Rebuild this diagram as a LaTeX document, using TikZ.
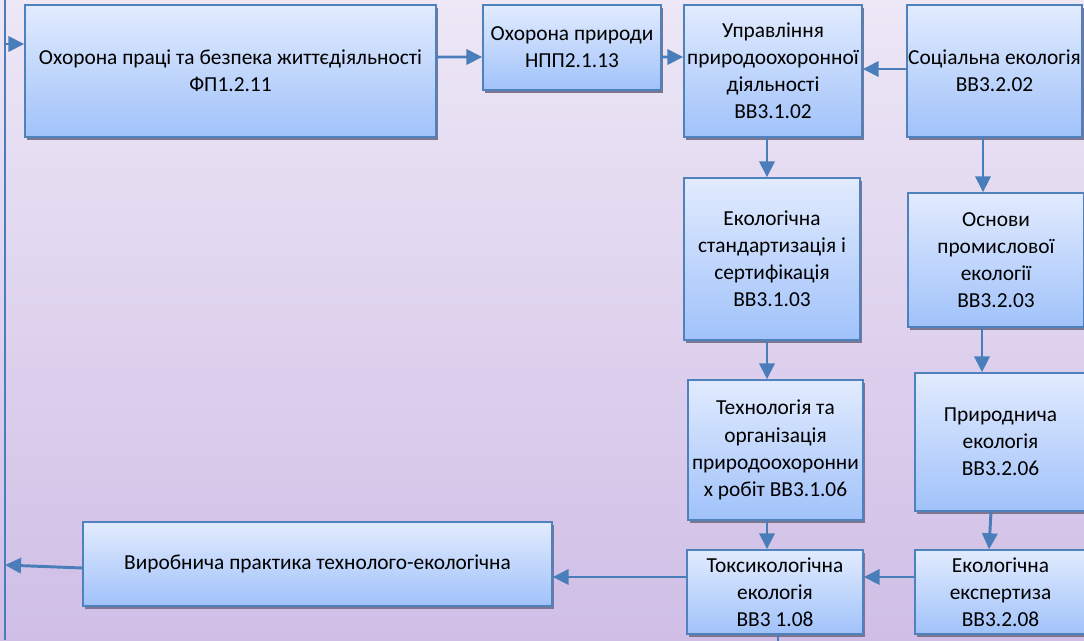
\documentclass[tikz,border=0pt]{standalone}
\usepackage{fontspec}
\setmainfont{Carlito}
\usetikzlibrary{calc,arrows.meta,shadows}

\definecolor{bgtop}{RGB}{237,231,246}
\definecolor{bgbot}{RGB}{208,190,230}
\definecolor{boxtop}{RGB}{226,235,254}
\definecolor{boxbot}{RGB}{160,194,250}
\definecolor{edge}{RGB}{79,129,189}
\definecolor{link}{RGB}{74,126,187}
\definecolor{shade}{RGB}{125,118,145}

\tikzset{
  box/.style 2 args={draw=edge,line width=1pt,top color=boxtop,bottom color=boxbot,
    minimum width=#1*0.025cm,minimum height=#2*0.025cm,inner sep=0pt,align=center,
    drop shadow={shadow xshift=0.06cm,shadow yshift=-0.07cm,fill=shade,opacity=1}},
  arr/.style={draw=link,line width=2.1pt,-{Triangle[length=0.4cm,width=0.38cm]}},
  rail/.style={draw=link,line width=1.5pt}
}

\begin{document}
\begin{tikzpicture}[x=0.025cm,y=-0.025cm,font=\fontsize{15.2}{19.3}\selectfont]
                 \shade[top color=bgtop,bottom color=bgbot] (0,0) rectangle (1084,640);
                 \useasboundingbox (0,0) rectangle (1084,640);
                 % left rail
                 \coordinate (ltop) at (5,0);
                 \coordinate (lbot) at (5,640);
                 \draw[rail] (ltop) -- (lbot);
                 % boxes
                 \node[box={411}{132}] (prac) at (230.5,71) {Охорона праці та безпека життєдіяльності\\ФП1.2.11};
                 \node[box={178}{85}] (ohor) at (572,47.5) {Охорона природи\\НПП2.1.13};
                 \node[box={178}{132}] (uprav) at (773,71) {Управління\\природоохоронної\\діяльності\\ВВ3.1.02};
                 \node[box={175}{132}] (soc) at (994.5,71) {Соціальна екологія\\ВВ3.2.02};
                 \node[box={176}{162}] (stand) at (772,259) {Екологічна\\стандартизація і\\сертифікація\\ВВ3.1.03};
                 \node[box={176}{134}] (prom) at (996,260) {Основи\\промислової\\екології\\ВВ3.2.03};
                 \node[box={175}{140}] (tech) at (775.5,450) {Технологія та\\організація\\природоохоронни\\х робіт ВВ3.1.06};
                 \node[box={171}{138}] (pryr) at (1000.5,442) {Природнича\\екологія\\ВВ3.2.06};
                 \node[box={176}{84}] (toks) at (775,592) {Токсикологічна\\екологія\\ВВ3 1.08};
                 \node[box={171}{84}] (expt) at (1000.5,592) {Екологічна\\експертиза\\ВВ3.2.08};
                 \node[box={469}{84}] (prakt) at (317.5,564) {Виробнича практика технолого-екологічна};
                 % links
                 \coordinate (lin) at (5,44);
                 \coordinate (lout) at (5,565);
                 \coordinate (down) at (778,690);
                 \draw[arr] (lin) -- (lin -| prac.west);
                 \draw[arr] ($(prac.east)+(0,-14)$) -- ($(ohor.west)+(0,9.5)$);
                 \draw[arr] ($(ohor.east)+(0,9.5)$) -- ($(uprav.west)+(0,-14)$);
                 \draw[arr] ($(soc.west)+(0,-2)$) -- ($(uprav.east)+(0,-2)$);
                 \draw[arr] ($(uprav.south)+(-6,0)$) -- ($(stand.north)+(-5,0)$);
                 \draw[arr] ($(soc.south)+(-11.5,0)$) -- ($(prom.north)+(-13,0)$);
                 \draw[arr] ($(stand.south)+(-5,0)$) -- ($(tech.north)+(-8.5,0)$);
                 \draw[arr] ($(prom.south)+(-14,0)$) -- ($(pryr.north)+(-18.5,0)$);
                 \draw[arr] ($(tech.south)+(-8.5,0)$) -- ($(toks.north)+(-8,0)$);
                 \draw[arr] ($(pryr.south)+(-9.5,0)$) -- ($(expt.north)+(-11.5,0)$);
                 \draw[arr] ($(expt.west)+(0,-15)$) -- ($(toks.east)+(0,-15)$);
                 \draw[arr] ($(toks.west)+(0,-15)$) -- ($(prakt.east)+(0,13)$);
                 \draw[arr] ($(prakt.west)+(0,4)$) -- (lout);
                 \draw[arr] ($(toks.south)+(3,0)$) -- (down);
               \end{tikzpicture}
\end{document}
